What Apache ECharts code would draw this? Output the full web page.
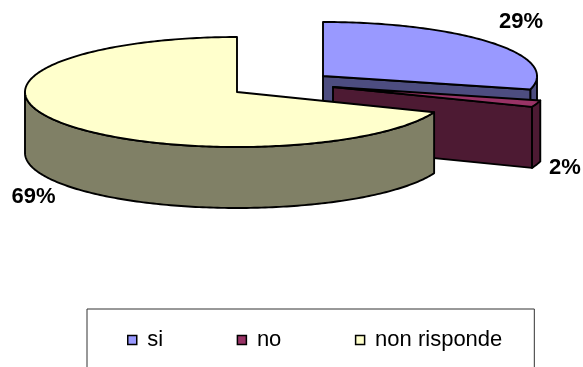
<!DOCTYPE html>
<html>
<head>
<meta charset="utf-8">
<style>html,body{margin:0;padding:0;background:#fff}#c{width:583px;height:367px}</style>
<script src="https://cdn.jsdelivr.net/npm/echarts@6/dist/echarts.min.js"></script>
</head>
<body>
<div id="c"></div>
<script>
const categories = ['si', 'no', 'non risponde'];
const values = [29, 2, 69];
const topColors = ['#9999FF', '#993366', '#FFFFCC'];
const wallColors = ['#4D4D80', '#4D1A33', '#808066'];

// presentation geometry of the tilted, exploded pie
const centers = [[323, 76], [333, 87], [237, 92]];
const radii = [[214, 54], [214, 54], [212, 55]];
const depth = 61;
const labelAnchors = [[521, 22], [565, 168], [33.5, 197]];
const edge = { stroke: '#000', lineWidth: 1.9, lineJoin: 'round' };

const total = values.reduce((a, b) => a + b, 0);
const rad = d => d * Math.PI / 180;

function renderSlice(idx) {
  return function (params, api) {
    const before = values.slice(0, idx).reduce((a, b) => a + b, 0);
    const t1 = 90 - before / total * 360;
    const t2 = t1 - api.value(0) / total * 360;
    const [cx, cy] = centers[idx];
    const [rx, ry] = radii[idx];
    const pt = (t, dy) => [cx + rx * Math.cos(rad(t)), cy - ry * Math.sin(rad(t)) + (dy || 0)];
    const arc = (a, b, dy) => {
      const out = [];
      const n = Math.max(2, Math.ceil(Math.abs(a - b)));
      for (let i = 0; i <= n; i++) out.push(pt(a + (b - a) * i / n, dy));
      return out;
    };
    const poly = (points, fill) => ({
      type: 'polygon', shape: { points }, style: Object.assign({ fill }, edge)
    });
    const children = [];
    const wall = wallColors[idx];
    const hi = Math.min(t1, 0), lo = Math.max(t2, -180);
    if (hi > lo) {
      children.push(poly(arc(hi, lo, 0).concat(arc(lo, hi, depth)), wall));
    }
    [[t2, -90], [t1, 90]].forEach(([t, n]) => {
      if (Math.sin(rad(t + n)) < -1e-6) {
        const e = pt(t, 0), f = pt(t, depth);
        children.push(poly([[cx, cy], e, f, [cx, cy + depth]], wall));
      }
    });
    children.push(poly([[cx, cy]].concat(arc(t1, t2, 0)), topColors[idx]));
    children.push({
      type: 'text',
      style: {
        x: labelAnchors[idx][0], y: labelAnchors[idx][1],
        text: Math.round(api.value(0) / total * 100) + '%',
        fill: '#000', align: 'center', verticalAlign: 'middle',
        font: 'bold 22px "Liberation Sans", Arial, sans-serif'
      }
    });
    return { type: 'group', children };
  };
}

const chart = echarts.init(document.getElementById('c'), null, { renderer: 'canvas' });
chart.setOption({
  animation: false,
  backgroundColor: '#fff',
  legend: {
    data: categories,
    left: 87,
    top: 309,
    orient: 'horizontal',
    icon: 'rect',
    itemWidth: 9,
    itemHeight: 9,
    itemGap: 73.5,
    padding: [20, 32, 40, 40],
    borderColor: '#333',
    borderWidth: 1,
    backgroundColor: '#fff',
    selectedMode: false,
    itemStyle: { borderColor: '#000', borderWidth: 1.5 },
    textStyle: { fontFamily: '"Liberation Sans", Arial, sans-serif', fontSize: 22, color: '#000', padding: [0, 0, 0, 5.5] }
  },
  series: categories.map((name, i) => ({
    type: 'custom',
    name,
    coordinateSystem: 'none',
    silent: true,
    itemStyle: { color: topColors[i] },
    data: [[values[i]]],
    renderItem: renderSlice(i)
  }))
});
</script>
</body>
</html>
